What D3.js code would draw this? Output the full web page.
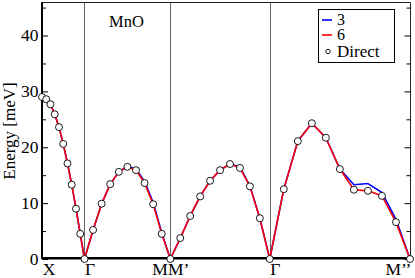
<!DOCTYPE html>
<html>
<head>
<meta charset="utf-8">
<script src="https://cdn.jsdelivr.net/npm/d3@7"></script>
<style>
  html, body { margin: 0; padding: 0; background: #fff; }
  .container { width: 415px; height: 278px; }
</style>
</head>
<body>
<div class="container"></div>
<script>
// high symmetry points along the path
const kTicks = [0, 0.5, 1.51, 2.68, 4.33];
const kLabels = ["X", "Γ", "MM’", "Γ", "M’’"];

// k of every sampled point (X-Γ, Γ-M, M'-Γ, Γ-M'')
const kPoints = [0, 0.05, 0.1, 0.15, 0.2, 0.25, 0.3, 0.35, 0.4, 0.45, 0.5,
  0.601, 0.702, 0.803, 0.904, 1.005, 1.106, 1.207, 1.308, 1.409, 1.51,
  1.627, 1.744, 1.861, 1.978, 2.095, 2.212, 2.329, 2.446, 2.563, 2.68,
  2.845, 3.01, 3.175, 3.34, 3.505, 3.67, 3.835, 4.0, 4.165, 4.33];

// energies in meV
const direct = [29.0, 28.6, 27.7, 25.9, 23.6, 20.6, 17.1, 13.3, 9.0, 4.5, 0,
  5.2, 9.9, 13.4, 15.6, 16.5, 15.9, 13.6, 9.8, 4.5, 0,
  3.75, 7.7, 11.2, 14.0, 15.9, 17.0, 16.3, 13.0, 7.3, 0,
  12.5, 21.1, 24.3, 21.7, 16.1, 12.4, 12.2, 11.3, 6.6, 0];
const shell3 = [29.0, 28.6, 27.7, 25.9, 23.6, 20.6, 17.1, 13.3, 9.0, 4.5, 0,
  5.2, 9.9, 13.4, 15.6, 16.6, 16.1, 13.9, 10.1, 4.7, 0,
  3.75, 7.7, 11.2, 14.0, 15.9, 17.0, 16.5, 13.1, 7.3, 0,
  12.5, 21.1, 24.3, 21.7, 16.1, 13.3, 13.5, 11.9, 7.1, 0];
const shell6 = [29.0, 28.6, 27.7, 25.9, 23.6, 20.6, 17.1, 13.3, 9.0, 4.5, 0,
  5.2, 9.9, 13.4, 15.6, 16.5, 15.9, 13.6, 9.8, 4.5, 0,
  3.75, 7.7, 11.2, 14.0, 15.9, 17.0, 16.3, 13.0, 7.3, 0,
  12.5, 21.1, 24.3, 21.7, 16.1, 12.4, 12.2, 11.3, 6.6, 0];

const yMajor = [0, 10, 20, 30, 40];
const yMinor = [5, 15, 25, 35, 45];

const seriesNames = ["3", "6"];
const seriesColors = ["#0000ff", "#ff0000"];

const FONT = "'Liberation Serif', Tinos, 'Times New Roman', Times, 'DejaVu Serif', serif";

function draw() {
  const left = 42, right = 410, top = 2, bottom = 259;
  const svg = d3.select(".container").append("svg")
    .attr("width", 415)
    .attr("height", 278)
    .style("background", "#fff");

  const x = d3.scaleLinear().domain([0, 4.33]).range([left, right]);
  const y = d3.scaleLinear().domain([0, 46]).range([bottom, top]);

  // separators at the symmetry points
  svg.selectAll("line.sep")
    .data(kTicks.slice(1, -1))
    .enter()
    .append("line")
    .attr("x1", d => Math.round(x(d)) + 0.5)
    .attr("x2", d => Math.round(x(d)) + 0.5)
    .attr("y1", top)
    .attr("y2", bottom)
    .style("stroke", "#666")
    .attr("stroke-width", 1);

  // frame top/right
  svg.append("path")
    .attr("d", `M${left},${top + 0.5}H${right + 0.5}V${bottom}`)
    .attr("fill", "none")
    .style("stroke", "#222")
    .attr("stroke-width", 1);

  // inward ticks on left and right sides
  const yAxisL = d3.axisRight(y).tickValues(yMajor).tickSize(6).tickFormat("");
  const yAxisLm = d3.axisRight(y).tickValues(yMinor).tickSize(4).tickFormat("");
  const yAxisR = d3.axisLeft(y).tickValues(yMajor).tickSize(6).tickFormat("");
  const yAxisRm = d3.axisLeft(y).tickValues(yMinor).tickSize(4).tickFormat("");
  [[yAxisL, left], [yAxisLm, left], [yAxisR, right + 0.5], [yAxisRm, right + 0.5]].forEach(a => {
    const g = svg.append("g").attr("transform", `translate(${a[1]},0)`).call(a[0]);
    g.select(".domain").remove();
    g.selectAll("line").style("stroke", "#000");
  });

  // y tick labels
  svg.selectAll("text.ylab")
    .data(yMajor)
    .enter()
    .append("text")
    .attr("x", 38.5)
    .attr("y", d => y(d))
    .attr("dy", "0.34em")
    .attr("text-anchor", "end")
    .style("font-family", FONT)
    .style("font-size", "17.5px")
    .text(d => d);

  // k labels (shifted like in the original)
  const labelShift = [7, 5.5, 0.5, 5.5, -11.5];
  svg.selectAll("text.klab")
    .data(kLabels)
    .enter()
    .append("text")
    .attr("x", (d, i) => x(kTicks[i]) + labelShift[i])
    .attr("y", 275)
    .attr("text-anchor", "middle")
    .style("font-family", FONT)
    .style("font-size", "17.5px")
    .text(d => d);

  svg.append("text")
    .attr("transform", "translate(14.5,131) rotate(-90)")
    .attr("text-anchor", "middle")
    .style("font-family", FONT)
    .style("font-size", "17px")
    .text("Energy [meV]");

  svg.append("text")
    .attr("x", 126.5)
    .attr("y", 26.5)
    .attr("text-anchor", "middle")
    .style("font-family", FONT)
    .style("font-size", "16.5px")
    .text("MnO");

  const line = d3.line()
    .x(d => x(d[0]))
    .y(d => y(d[1]));

  [shell3, shell6].forEach((s, i) => {
    svg.append("path")
      .datum(kPoints.map((k, j) => [k, s[j]]))
      .attr("d", line)
      .attr("fill", "none")
      .style("stroke", seriesColors[i])
      .attr("stroke-width", 1.6)
      .attr("stroke-linejoin", "round");
  });

  // axes on bottom and left (thick)
  svg.append("line")
    .attr("x1", left).attr("x2", right + 1)
    .attr("y1", y(0) - 0.8).attr("y2", y(0) - 0.8)
    .style("stroke", "#000").attr("stroke-width", 2.6);
  svg.append("line")
    .attr("x1", left).attr("x2", left)
    .attr("y1", top).attr("y2", bottom)
    .style("stroke", "#000").attr("stroke-width", 2);

  svg.selectAll("circle.direct")
    .data(kPoints.map((k, j) => [k, direct[j]]))
    .enter()
    .append("circle")
    .attr("cx", d => x(d[0]))
    .attr("cy", d => y(d[1]))
    .attr("r", 3.5)
    .attr("fill", "#fff")
    .style("stroke", "#000")
    .attr("stroke-width", 0.9);

  // legend
  const lg = svg.append("g");
  lg.append("rect")
    .attr("x", 318.5).attr("y", 9.5)
    .attr("width", 76).attr("height", 53)
    .attr("fill", "#fff")
    .style("stroke", "#000")
    .attr("stroke-width", 1);
  seriesNames.forEach((n, i) => {
    const ly = 20 + i * 15;
    lg.append("line")
      .attr("x1", 322).attr("x2", 332)
      .attr("y1", ly).attr("y2", ly)
      .style("stroke", seriesColors[i])
      .attr("stroke-width", 1.6);
    lg.append("text")
      .attr("x", 337).attr("y", ly + 5)
      .style("font-family", FONT)
      .style("font-size", "16px")
      .text(n);
  });
  lg.append("circle")
    .attr("cx", 328).attr("cy", 51.5).attr("r", 2.2)
    .attr("fill", "#fff")
    .style("stroke", "#000")
    .attr("stroke-width", 0.9);
  lg.append("text")
    .attr("x", 337).attr("y", 56.5)
    .style("font-family", FONT)
    .style("font-size", "17px")
    .text("Direct");
}

draw();
</script>
</body>
</html>
